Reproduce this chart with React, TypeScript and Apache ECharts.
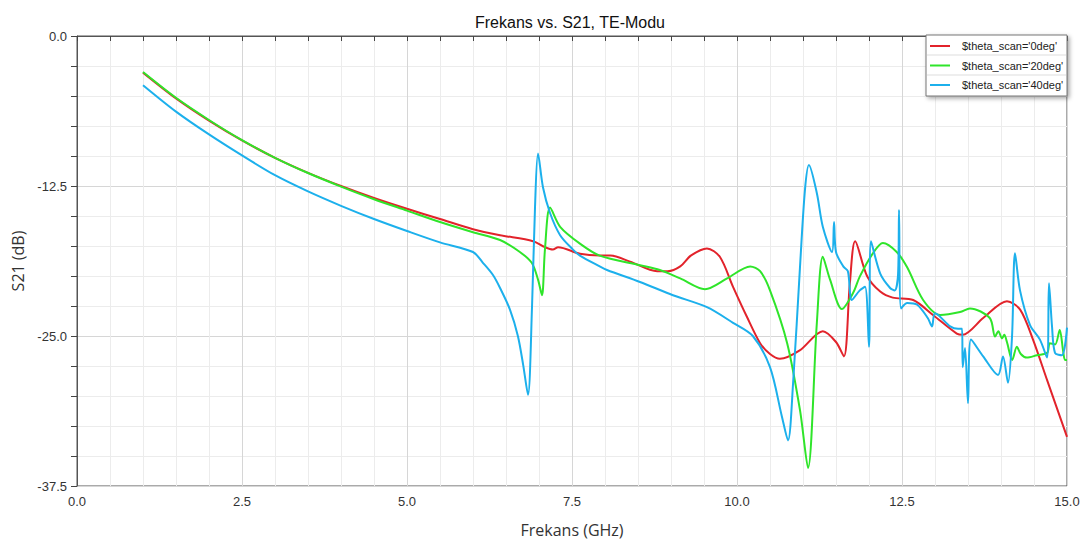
import React, { useEffect, useRef } from "react";
import * as echarts from "echarts";

const seriesNames = ["$theta_scan='0deg'", "$theta_scan='20deg'", "$theta_scan='40deg'"];
const seriesColors = ["#e2232b", "#2fe52a", "#1cb0ec"];

const red0deg: [number, number][] = [
  [1.0, -3.05], [1.5, -5.2], [2.0, -7.05], [2.5, -8.7], [3.0, -10.15], [3.5, -11.4], [4.0, -12.5],
  [4.5, -13.5], [5.0, -14.4], [5.5, -15.25], [6.0, -16.1], [6.41, -16.6], [6.91, -17.1], [7.09, -17.6],
  [7.21, -17.8], [7.29, -17.6], [7.62, -18.15], [7.92, -18.3], [8.08, -18.3], [8.38, -18.8],
  [8.79, -19.6], [8.95, -19.6], [9.14, -19.2], [9.3, -18.3], [9.545, -17.7], [9.74, -18.4],
  [9.94, -20.9], [10.15, -23.4], [10.35, -25.6], [10.5, -26.5], [10.65, -26.9], [10.95, -26.2],
  [11.3, -24.6], [11.5, -25.5], [11.62, -26.7], [11.71, -20.6], [11.79, -17.1], [11.97, -20.0],
  [12.17, -21.3], [12.36, -21.8], [12.67, -22.0], [12.97, -23.25], [13.33, -24.8], [13.42, -24.9],
  [13.73, -23.5], [14.09, -22.1], [14.29, -22.8], [14.485, -25.3], [14.7, -28.7], [15.0, -33.4],
];

const green20deg: [number, number][] = [
  [1.0, -3.0], [1.5, -5.15], [2.0, -7.0], [2.5, -8.68], [3.0, -10.15], [3.5, -11.42], [4.0, -12.55],
  [4.5, -13.6], [5.0, -14.55], [5.5, -15.5], [6.0, -16.35], [6.41, -17.0], [6.71, -18.0],
  [6.89, -18.9], [6.985, -20.3], [7.045, -21.6], [7.09, -17.8], [7.167, -14.3], [7.32, -15.9],
  [7.62, -17.3], [7.92, -18.3], [8.53, -19.1], [8.83, -19.5], [9.14, -20.2], [9.515, -21.1],
  [9.85, -20.2], [10.2, -19.2], [10.35, -19.6], [10.5, -21.2], [10.76, -25.6], [10.955, -31.2],
  [11.076, -36.0], [11.21, -23.9], [11.3, -18.4], [11.41, -20.3], [11.59, -22.75], [11.76, -21.4],
  [11.86, -20.05], [12.06, -18.1], [12.21, -17.25], [12.42, -18.0], [12.58, -19.3], [12.82, -22.0],
  [13.08, -23.25], [13.38, -23.0], [13.53, -22.7], [13.83, -23.5], [13.91, -25.05], [13.96, -24.6],
  [14.015, -25.2], [14.05, -24.9], [14.09, -25.5], [14.17, -27.0], [14.24, -25.9], [14.3, -26.5],
  [14.39, -26.8], [14.545, -26.6], [14.7, -26.4], [14.74, -25.6], [14.82, -25.7], [14.89, -24.5],
  [14.94, -26.2], [14.97, -27.0], [15.0, -27.0],
];

const blue40deg: [number, number][] = [
  [1.0, -4.1], [1.5, -6.3], [2.0, -8.2], [2.5, -9.95], [3.0, -11.6], [3.5, -12.95], [4.0, -14.15],
  [4.5, -15.25], [5.0, -16.25], [5.5, -17.2], [6.0, -18.0], [6.15, -18.9], [6.3, -19.9], [6.41, -21.0],
  [6.56, -22.8], [6.68, -25.0], [6.76, -27.4], [6.833, -29.9], [6.894, -22.6], [6.94, -14.2], [6.985, -9.8],
  [7.06, -12.6], [7.167, -14.75], [7.32, -16.6], [7.515, -17.8], [7.62, -18.3], [7.92, -19.2],
  [8.03, -19.5], [8.53, -20.5], [9.03, -21.6], [9.545, -22.6], [9.94, -23.9], [10.24, -25.0],
  [10.5, -27.6], [10.68, -31.7], [10.773, -33.7], [10.85, -28.9], [10.955, -19.2], [11.03, -12.8],
  [11.09, -10.75], [11.21, -13.1], [11.3, -15.9], [11.44, -18.0], [11.47, -15.5], [11.5, -18.0],
  [11.61, -19.2], [11.68, -19.6], [11.74, -22.0], [11.86, -21.2], [11.94, -20.9], [12.0, -25.9],
  [12.03, -17.1], [12.17, -19.8], [12.32, -21.0], [12.39, -21.2], [12.44, -19.9], [12.455, -14.5],
  [12.485, -22.7], [12.58, -22.25], [12.73, -22.4], [12.89, -23.5], [12.955, -24.2], [13.0, -23.1],
  [13.23, -24.2], [13.35, -24.4], [13.41, -24.4], [13.42, -27.6], [13.455, -26.0], [13.5, -30.6],
  [13.545, -25.3], [13.73, -26.7], [13.955, -28.25], [14.03, -26.7], [14.106, -28.9], [14.167, -25.05],
  [14.212, -18.1], [14.288, -21.2], [14.44, -24.1], [14.59, -25.3], [14.697, -26.8], [14.727, -20.6],
  [14.773, -24.2], [14.818, -26.4], [14.924, -26.6], [15.0, -24.3],
];

const xTicks = { min: 0, max: 15, interval: 2.5 };
const yTicks = { min: -37.5, max: 0, interval: 12.5 };

export default function App() {
  const ref = useRef<HTMLDivElement>(null);
  useEffect(() => {
    document.body.style.margin = "0";
    const chart = echarts.init(ref.current!, undefined, { renderer: "svg" });
    const font = "Liberation Sans, Arial, sans-serif";
    const allData = [red0deg, green20deg, blue40deg];
    chart.setOption({
      animation: false,
      backgroundColor: "#ffffff",
      title: {
        text: "Frekans vs. S21, TE-Modu",
        left: 470,
        top: 9,
        textStyle: { fontFamily: font, fontSize: 16, fontWeight: "normal", color: "#111" },
      },
      graphic: [
        {
          type: "rect",
          shape: { x: 926, y: 35, width: 141, height: 61 },
          style: { fill: "#fff", stroke: "#777", lineWidth: 1, shadowBlur: 4, shadowOffsetX: 2, shadowOffsetY: 2, shadowColor: "rgba(0,0,0,0.35)" },
          z: 50,
        },
        { type: "line", shape: { x1: 927, y1: 55, x2: 1066, y2: 55 }, style: { stroke: "#ddd", lineWidth: 1 }, z: 51 },
        { type: "line", shape: { x1: 927, y1: 75, x2: 1066, y2: 75 }, style: { stroke: "#ddd", lineWidth: 1 }, z: 51 },
      ],
      legend: {
        orient: "vertical",
        left: 925,
        top: 35,
        z: 60,
        itemWidth: 20,
        itemHeight: 2,
        itemGap: 7.5,
        icon: "rect",
        data: seriesNames,
        textStyle: { fontFamily: font, fontSize: 11, color: "#222", padding: [0, 0, 0, 7], lineHeight: 12 },
      },
      grid: { left: 77, top: 36, width: 990, height: 450, show: true, borderColor: "#555", borderWidth: 1, backgroundColor: "transparent" },
      xAxis: {
        type: "value",
        min: xTicks.min,
        max: xTicks.max,
        interval: xTicks.interval,
        name: "Frekans (GHz)",
        nameLocation: "middle",
        nameGap: 36,
        nameTextStyle: { fontFamily: "Open Sans, sans-serif", fontSize: 16, color: "#333" },
        axisLine: { show: true, lineStyle: { color: "#555" } },
        axisTick: { show: true, length: 5, lineStyle: { color: "#444" } },
        minorTick: { show: true, splitNumber: 5, length: 5, lineStyle: { color: "#444" } },
        axisLabel: { fontFamily: font, fontSize: 13, color: "#333", margin: 9, formatter: (v: number) => v.toFixed(1) },
        splitLine: { show: true, lineStyle: { color: "#d6d6d6" } },
        minorSplitLine: { show: true, lineStyle: { color: "#ececec" } },
      },
      yAxis: {
        type: "value",
        min: yTicks.min,
        max: yTicks.max,
        interval: yTicks.interval,
        name: "S21 (dB)",
        nameLocation: "middle",
        nameGap: 50,
        nameTextStyle: { fontFamily: "Open Sans, sans-serif", fontSize: 16, color: "#333" },
        axisLine: { show: true, lineStyle: { color: "#555" } },
        axisTick: { show: true, length: 6, lineStyle: { color: "#444" } },
        minorTick: { show: true, splitNumber: 5, length: 6, lineStyle: { color: "#444" } },
        axisLabel: { fontFamily: font, fontSize: 13, color: "#333", margin: 10, formatter: (v: number) => v.toFixed(1) },
        splitLine: { show: true, lineStyle: { color: "#d6d6d6" } },
        minorSplitLine: { show: true, lineStyle: { color: "#ececec" } },
      },
      series: seriesNames.map((name, i) => ({
        name,
        type: "line",
        data: allData[i],
        showSymbol: false,
        smooth: 0.3,
        lineStyle: { width: 2, color: seriesColors[i] },
        itemStyle: { color: seriesColors[i] },
        z: 2,
      })),
    });
    return () => chart.dispose();
  }, []);
  return <div ref={ref} style={{ width: 1086, height: 547 }} />;
}
